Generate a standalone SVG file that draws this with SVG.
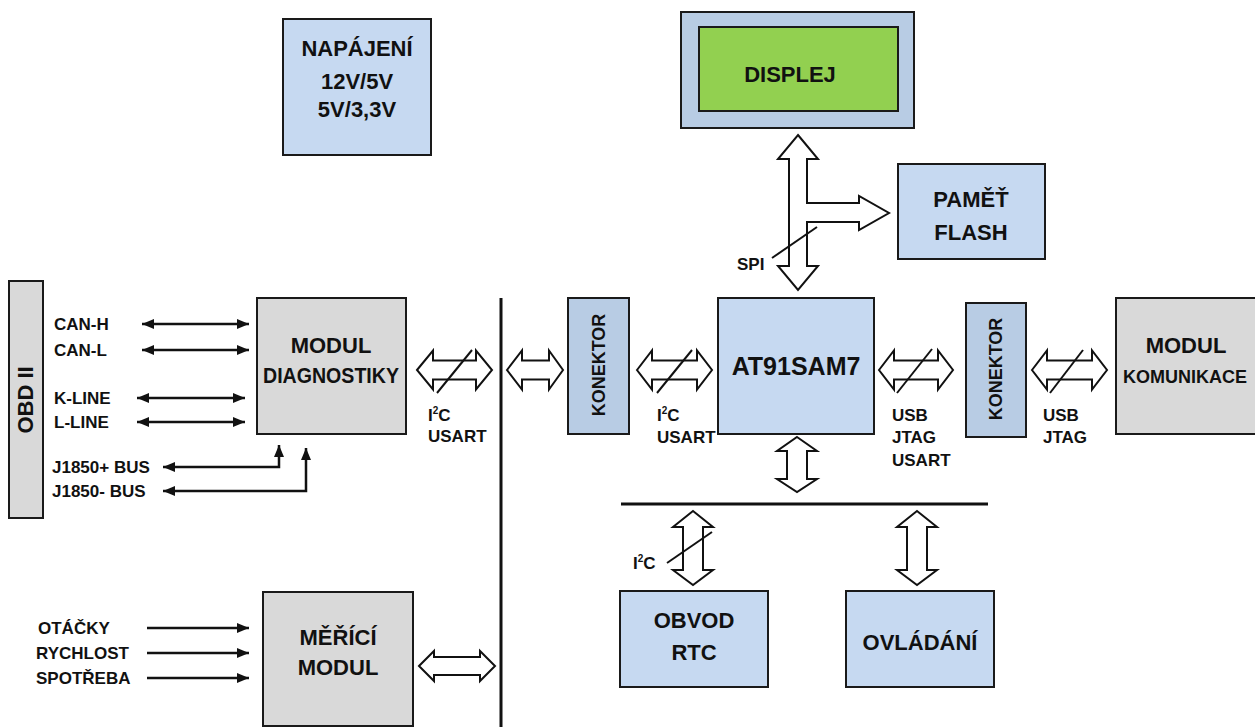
<svg xmlns="http://www.w3.org/2000/svg" width="1255" height="727" viewBox="0 0 1255 727">
<style>
text{font-family:"Liberation Sans",Arial,sans-serif;font-weight:bold;fill:#111}
.big{font-size:22px;text-anchor:middle}
.sm{font-size:17px}
.sup{font-size:10px}
.blue{fill:#c6d9f1;stroke:#1a1a1a;stroke-width:2}
.dblue{fill:#b8cce4;stroke:#1a1a1a;stroke-width:2}
.gray{fill:#d9d9d9;stroke:#1a1a1a;stroke-width:2}
.green{fill:#92d050;stroke:#1a1a1a;stroke-width:2}
.hollow{fill:#fff;stroke:#111;stroke-width:2;stroke-linejoin:miter}
.slash{stroke:#111;stroke-width:2;fill:none}
.wire{stroke:#111;stroke-width:2.5;fill:none}
.bus{stroke:#111;stroke-width:3;fill:none}
</style>
<defs>
<marker id="ah" viewBox="0 0 12 10" refX="12" refY="5" markerWidth="12" markerHeight="10" markerUnits="userSpaceOnUse" orient="auto-start-reverse">
<path d="M0,0 L12,5 L0,10 z" fill="#111"/>
</marker>
</defs>
<rect width="1255" height="727" fill="#fff"/>

<g id="napajeni">
<rect class="blue" x="283" y="19" width="148" height="136"/>
<text class="big" x="357" y="56">NAPÁJENÍ</text>
<text class="big" x="357" y="89">12V/5V</text>
<text class="big" x="357" y="117">5V/3,3V</text>
</g>

<g id="displej">
<rect class="dblue" x="681" y="12" width="233" height="116"/>
<rect class="green" x="699" y="27" width="199" height="84"/>
<text class="big" x="790" y="82">DISPLEJ</text>
</g>

<g id="pamet">
<rect class="blue" x="898" y="164" width="147" height="95"/>
<text class="big" x="971" y="207">PAMĚŤ</text>
<text class="big" x="971" y="240">FLASH</text>
</g>

<g id="obd">
<rect class="gray" x="9" y="281" width="34" height="237"/>
<text class="big" transform="translate(33,400) rotate(-90)">OBD II</text>
</g>

<g id="diag">
<rect class="gray" x="257" y="298" width="149" height="136"/>
<text class="big" x="331" y="353">MODUL</text>
<text class="big" x="331" y="383" textLength="136" lengthAdjust="spacingAndGlyphs">DIAGNOSTIKY</text>
</g>

<g id="konektor1">
<rect class="dblue" x="568" y="298" width="61" height="136"/>
<text class="big" style="font-size:18px" transform="translate(605,365) rotate(-90)">KONEKTOR</text>
</g>

<g id="at91">
<rect class="blue" x="718" y="298" width="156" height="136"/>
<text class="big" style="font-size:25px" x="796" y="375">AT91SAM7</text>
</g>

<g id="konektor2">
<rect class="dblue" x="966" y="303" width="60" height="134"/>
<text class="big" style="font-size:18px" transform="translate(1002,369) rotate(-90)">KONEKTOR</text>
</g>

<g id="komunikace">
<rect x="1116" y="298" width="139" height="136" fill="#d9d9d9"/>
<path d="M1255,298 H1116 V434 H1255" fill="none" stroke="#1a1a1a" stroke-width="2"/>
<text class="big" x="1186" y="353">MODUL</text>
<text class="big" style="font-size:18px" x="1185" y="383">KOMUNIKACE</text>
</g>

<g id="rtc">
<rect class="blue" x="620" y="591" width="148" height="96"/>
<text class="big" x="694" y="628">OBVOD</text>
<text class="big" x="694" y="660">RTC</text>
</g>

<g id="ovladani">
<rect class="blue" x="846" y="591" width="148" height="96"/>
<text class="big" x="920" y="650">OVLÁDÁNÍ</text>
</g>

<g id="merici">
<rect class="gray" x="263" y="592" width="150" height="134"/>
<text class="big" x="338" y="645">MĚŘÍCÍ</text>
<text class="big" x="338" y="675">MODUL</text>
</g>

<g id="connectors">
<line class="bus" x1="501" y1="298" x2="501" y2="727"/>
<line class="bus" x1="621" y1="504" x2="988" y2="504"/>

<line class="wire" x1="142" y1="324" x2="249" y2="324" marker-start="url(#ah)" marker-end="url(#ah)"/>
<line class="wire" x1="142" y1="350" x2="249" y2="350" marker-start="url(#ah)" marker-end="url(#ah)"/>
<line class="wire" x1="137" y1="398" x2="245" y2="398" marker-start="url(#ah)" marker-end="url(#ah)"/>
<line class="wire" x1="137" y1="422" x2="245" y2="422" marker-start="url(#ah)" marker-end="url(#ah)"/>
<polyline class="wire" points="279,445 279,467 163,467" marker-start="url(#ah)" marker-end="url(#ah)"/>
<polyline class="wire" points="306,448 306,491 163,491" marker-start="url(#ah)" marker-end="url(#ah)"/>
<line class="wire" x1="147" y1="628" x2="249" y2="628" marker-end="url(#ah)"/>
<line class="wire" x1="147" y1="653" x2="249" y2="653" marker-end="url(#ah)"/>
<line class="wire" x1="147" y1="678" x2="249" y2="678" marker-end="url(#ah)"/>

<path class="hollow" d="M417,370 L433,350.5 L433,360.5 L476,360.5 L476,350.5 L492,370 L476,389.5 L476,379.5 L433,379.5 L433,389.5 Z"/>
<path class="hollow" d="M507,370 L522,350.5 L522,360.5 L549,360.5 L549,350.5 L563,370 L549,389.5 L549,379.5 L522,379.5 L522,389.5 Z"/>
<path class="hollow" d="M637,370 L652,350.5 L652,360.5 L697,360.5 L697,350.5 L712,370 L697,389.5 L697,379.5 L652,379.5 L652,389.5 Z"/>
<path class="hollow" d="M879,370 L894,350.5 L894,360.5 L938,360.5 L938,350.5 L953,370 L938,389.5 L938,379.5 L894,379.5 L894,389.5 Z"/>
<path class="hollow" d="M1032,370 L1047,350.5 L1047,360.5 L1092,360.5 L1092,350.5 L1107,370 L1092,389.5 L1092,379.5 L1047,379.5 L1047,389.5 Z"/>
<path class="hollow" d="M419,666 L434,651 L434,657 L480,657 L480,651 L495,666 L480,681 L480,675 L434,675 L434,681 Z"/>

<path class="hollow" d="M797,437 L817,451 L807,451 L807,479 L817,479 L797,492 L777,479 L787,479 L787,451 L777,451 Z"/>
<path class="hollow" d="M693,511 L713,527 L703,527 L703,570 L713,570 L693,585 L673,570 L683,570 L683,527 L673,527 Z"/>
<path class="hollow" d="M917,511 L937,527 L927,527 L927,570 L937,570 L917,585 L897,570 L907,570 L907,527 L897,527 Z"/>

<path class="hollow" d="M798,135 L818,159 L807,159 L807,203 L859,203 L859,196 L889,213 L859,230 L859,222 L807,222 L807,266 L818,266 L798,290 L778,266 L789,266 L789,159 L778,159 Z"/>

<line class="slash" x1="772" y1="258" x2="817" y2="227"/>
<line class="slash" x1="437" y1="393" x2="472" y2="350"/>
<line class="slash" x1="657" y1="393" x2="692" y2="350"/>
<line class="slash" x1="897" y1="393" x2="932" y2="349"/>
<line class="slash" x1="1050" y1="393" x2="1083" y2="350"/>
<line class="slash" x1="667" y1="563" x2="712" y2="532"/>
</g>

<g id="labels">
<text class="sm" x="54" y="330">CAN-H</text>
<text class="sm" x="54" y="356">CAN-L</text>
<text class="sm" x="54" y="404">K-LINE</text>
<text class="sm" x="54" y="428">L-LINE</text>
<text class="sm" x="52" y="473">J1850+ BUS</text>
<text class="sm" x="52" y="497">J1850- BUS</text>
<text class="sm" x="38" y="634">OTÁČKY</text>
<text class="sm" x="36" y="659">RYCHLOST</text>
<text class="sm" x="36" y="684">SPOTŘEBA</text>

<text class="sm" x="428" y="421">I<tspan class="sup" dy="-7">2</tspan><tspan dy="7">C</tspan></text>
<text class="sm" x="428" y="442">USART</text>
<text class="sm" x="657" y="421">I<tspan class="sup" dy="-7">2</tspan><tspan dy="7">C</tspan></text>
<text class="sm" x="657" y="443">USART</text>
<text class="sm" x="892" y="421">USB</text>
<text class="sm" x="892" y="443">JTAG</text>
<text class="sm" x="892" y="466">USART</text>
<text class="sm" x="1043" y="421">USB</text>
<text class="sm" x="1043" y="443">JTAG</text>
<text class="sm" x="633" y="569">I<tspan class="sup" dy="-7">2</tspan><tspan dy="7">C</tspan></text>
<text class="sm" x="737" y="270">SPI</text>
</g>
</svg>
